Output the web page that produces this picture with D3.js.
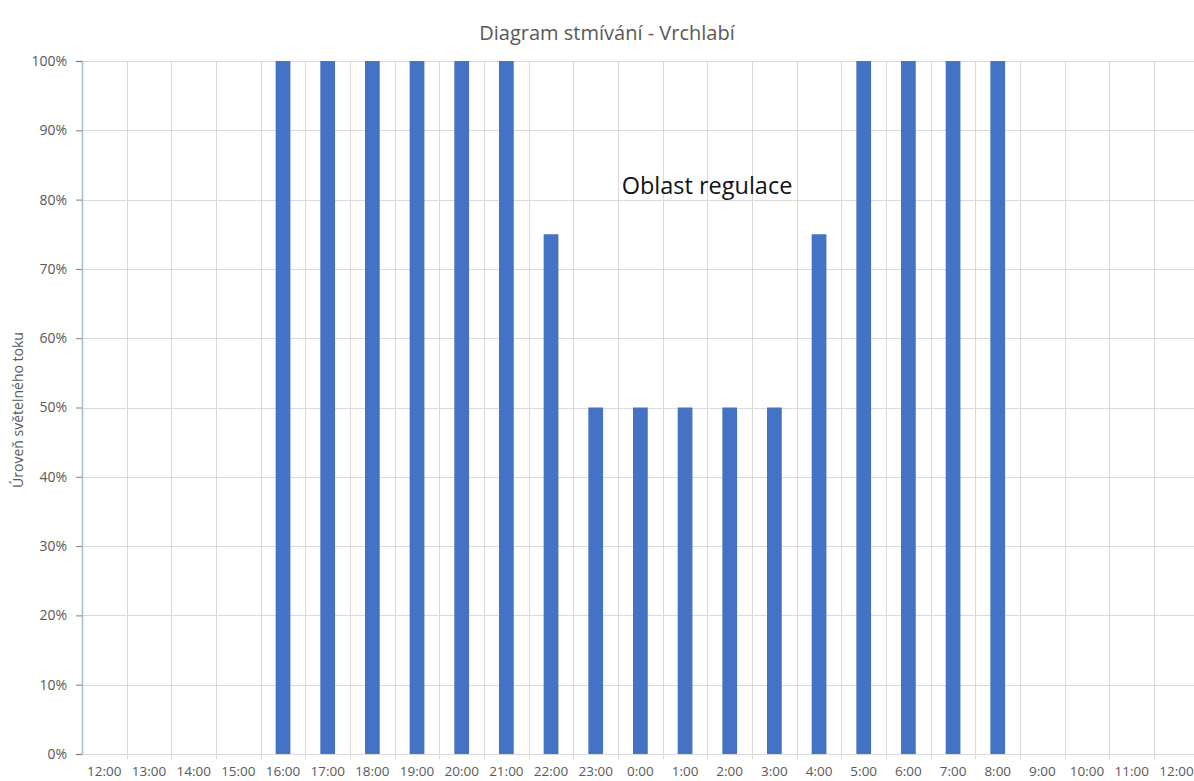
<!DOCTYPE html>
<html>
<head>
<meta charset="utf-8">
<script src="https://cdn.jsdelivr.net/npm/d3@7"></script>
<style>
  body { margin: 0; background: #fff; }
  text { font-family: "Open Sans", "Noto Sans", sans-serif; fill: #595959; }
</style>
</head>
<body>
<div id="chart"></div>
<script>
// hours shown along the x axis (noon to noon)
const hours = ['12:00', '13:00', '14:00', '15:00', '16:00', '17:00', '18:00', '19:00', '20:00',
  '21:00', '22:00', '23:00', '0:00', '1:00', '2:00', '3:00', '4:00', '5:00', '6:00', '7:00',
  '8:00', '9:00', '10:00', '11:00', '12:00 '];
// light level in percent for each hour
const levels = [0, 0, 0, 0, 100, 100, 100, 100, 100, 100, 75, 50, 50, 50, 50, 50, 75,
  100, 100, 100, 100, 0, 0, 0, 0];
const yTicks = [0, 10, 20, 30, 40, 50, 60, 70, 80, 90, 100];

const width = 1194, height = 781;
const margin = {top: 61, left: 82};
const plotW = 25 * 44.67;   // plot runs a little past the right edge
const plotH = 693;

const svg = d3.select('#chart').append('svg')
    .attr('width', width)
    .attr('height', height);

const chart = svg.append('g')
    .attr('transform', `translate(${margin.left},${margin.top})`);

const x = d3.scaleBand()
    .domain(hours)
    .range([0, plotW]);

const y = d3.scaleLinear()
    .domain([0, 100])
    .range([plotH, 0]);

// horizontal gridlines
chart.selectAll('.hgrid')
    .data(yTicks)
  .join('line')
    .attr('class', 'hgrid')
    .attr('x1', 0)
    .attr('x2', plotW)
    .attr('y1', d => Math.round(y(d)) + 0.5)
    .attr('y2', d => Math.round(y(d)) + 0.5)
    .attr('stroke', '#d9d9d9');

// vertical gridlines at category boundaries
chart.selectAll('.vgrid')
    .data(hours.slice(1))
  .join('line')
    .attr('class', 'vgrid')
    .attr('x1', d => Math.round(x(d)) + 0.5)
    .attr('x2', d => Math.round(x(d)) + 0.5)
    .attr('y1', 0)
    .attr('y2', y(0) + 5)
    .attr('stroke', '#d9d9d9');

// bars
const barW = x.bandwidth() * 0.33;
chart.selectAll('.bar')
    .data(levels.map((v, i) => ({hour: hours[i], value: v})))
  .join('rect')
    .attr('class', 'bar')
    .attr('x', d => x(d.hour) + (x.bandwidth() - barW) / 2)
    .attr('y', d => y(d.value))
    .attr('width', barW)
    .attr('height', d => y(0) - y(d.value))
    .attr('fill', '#4472c4');

// y axis
const yAxis = chart.append('g')
    .call(d3.axisLeft(y).tickValues(yTicks).tickFormat(d => d + '%').tickSize(6).tickPadding(9));
yAxis.select('.domain').attr('stroke', '#a9bbd4').attr('stroke-width', 1.5);
yAxis.selectAll('.tick line').attr('stroke', '#7f7f7f');
yAxis.selectAll('.tick text').attr('font-size', 14).attr('fill', '#595959')
    .style('font-family', '"Open Sans", sans-serif');

// x axis
const xAxis = chart.append('g')
    .attr('transform', `translate(0,${y(0)})`)
    .call(d3.axisBottom(x).tickSize(0).tickPadding(12).tickFormat(d => d.trim()));
xAxis.select('.domain').attr('stroke', '#d9d9d9');
xAxis.selectAll('.tick text').attr('font-size', 13.5).attr('fill', '#595959')
    .style('font-family', '"Open Sans", sans-serif');

// title
svg.append('text')
    .attr('x', 607)
    .attr('y', 40)
    .attr('text-anchor', 'middle')
    .attr('font-size', 20)
    .text('Diagram stmívání - Vrchlabí');

// y axis title
svg.append('text')
    .attr('transform', 'translate(23,410) rotate(-90)')
    .attr('text-anchor', 'middle')
    .attr('font-size', 14)
    .text('Úroveň světelného toku');

// annotation
svg.append('text')
    .attr('x', 707)
    .attr('y', 194)
    .attr('text-anchor', 'middle')
    .attr('font-size', 23.5)
    .style('fill', '#111')
    .text('Oblast regulace');
</script>
</body>
</html>
